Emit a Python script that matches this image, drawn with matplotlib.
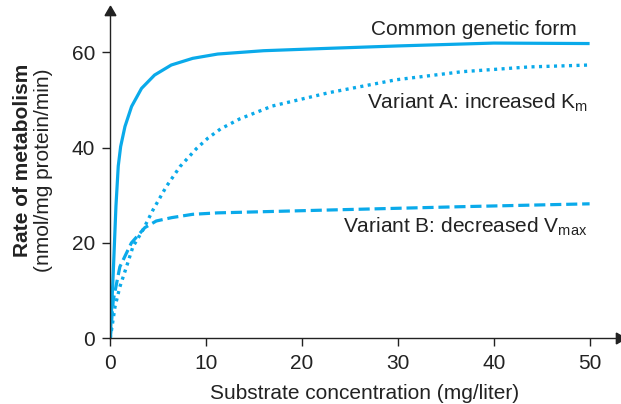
import matplotlib.pyplot as plt

plt.rcParams["font.family"] = ["Liberation Sans", "DejaVu Sans"]
plt.rcParams["lines.scale_dashes"] = False

BLUE = "#0aaaea"
INK = "#222222"

# values
common_x = [0, 0.31, 0.59, 0.83, 1.08, 1.53, 2.22, 3.26, 4.62, 6.36, 8.6, 11.2,
            16, 22.8, 30, 40, 50]
common_y = [0, 13.8, 27.7, 36.1, 40.2, 44.4, 48.6, 52.4, 55.2, 57.3, 58.7, 59.6,
            60.3, 60.8, 61.3, 61.9, 61.8]

var_a_x = [0, 0.49, 1.0, 1.69, 2.36, 3.4, 4.45, 5.84, 7.27, 9.0, 10.2, 11.5,
           13.5, 16.9, 22.8, 29.8, 36.7, 43.7, 50]
var_a_y = [0, 6.6, 10.8, 15.0, 19.2, 22.7, 26.9, 31.8, 36.0, 39.8, 42.0, 43.9,
           46.0, 48.7, 51.5, 54.2, 55.9, 56.9, 57.3]

var_b_x = [0, 0.31, 1.0, 2.2, 3.6, 4.8, 6.4, 8.6, 11.2, 22.8, 36.7, 50]
var_b_y = [0, 8.0, 15.0, 20.0, 23.2, 24.6, 25.3, 26.0, 26.3, 26.9, 27.6, 28.2]

x_ticks = [0, 10, 20, 30, 40, 50]
y_ticks = [0, 20, 40, 60]

fig = plt.figure(figsize=(6.21, 4.04), dpi=100)
ax = fig.add_axes([0.1776, 0.1626, 0.8197, 0.8087])

ax.plot(common_x, common_y, color=BLUE, lw=2.3, solid_capstyle="butt")
ax.plot(var_a_x, var_a_y, color=BLUE, lw=2.4, linestyle=(0, (2.2, 3.2)))
ax.plot(var_b_x, var_b_y, color=BLUE, lw=2.3, linestyle=(0, (8, 3.5)))

ax.set_xlim(0, 53.1)
ax.set_ylim(0, 68.5)
ax.set_xticks(x_ticks)
ax.set_yticks(y_ticks)
ax.tick_params(labelsize=15, length=6, width=1, color=INK,
               labelcolor=INK, pad=5)

for side in ("top", "right"):
    ax.spines[side].set_visible(False)
for side in ("left", "bottom"):
    ax.spines[side].set_color(INK)
    ax.spines[side].set_linewidth(1)

# axis arrows
ax.plot(1, 0, marker=(3, 0, -90), ms=9, color=INK,
        transform=ax.get_yaxis_transform(), clip_on=False)
ax.plot(0, 1, marker=(3, 0, 0), ms=9, color=INK,
        transform=ax.get_xaxis_transform(), clip_on=False)

ax.text(48.7, 64.8, "Common genetic form", fontsize=15, ha="right",
        va="center", color=INK)
ax.text(49.8, 49.5, r"Variant A: increased K$_\mathregular{m}$", fontsize=15,
        ha="right", va="center", color=INK)
ax.text(49.8, 23.3, r"Variant B: decreased V$_\mathregular{max}$", fontsize=15,
        ha="right", va="center", color=INK)

ax.set_xlabel("Substrate concentration (mg/liter)", fontsize=15,
              color=INK, labelpad=8)
fig.text(0.036, 0.604, "Rate of metabolism", rotation=90, fontsize=15,
         fontweight="bold", ha="center", va="center", color=INK)
fig.text(0.070, 0.579, "(nmol/mg protein/min)", rotation=90, fontsize=15,
         ha="center", va="center", color=INK)

fig.savefig("out.png", dpi=100)
